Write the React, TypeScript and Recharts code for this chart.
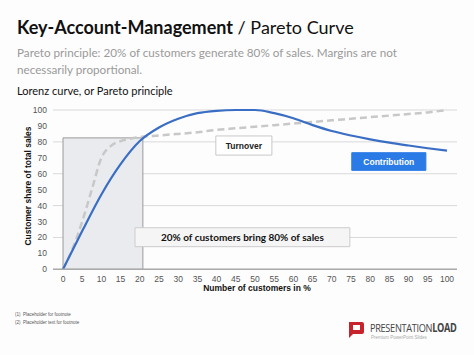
import React from 'react';
import { LineChart, Line, XAxis, YAxis, CartesianGrid, ReferenceArea } from 'recharts';

const xTicks = [0, 5, 10, 15, 20, 25, 30, 35, 40, 45, 50, 55, 60, 65, 70, 75, 80, 85, 90, 95, 100];
const yTicks = [0, 10, 20, 30, 40, 50, 60, 70, 80, 90, 100];

const contributionX = [0, 5, 10, 15, 20, 25, 30, 35, 40, 45, 50, 55, 60, 65, 70, 75, 80, 85, 90, 95, 100];
const contributionY = [0, 24, 47, 66, 80.5, 89, 94.5, 98, 99.5, 100, 100, 98, 94.8, 90.5, 86.8, 84, 81.6, 79.5, 77.7, 76, 74.5];

const turnoverX = [0, 2.5, 5, 7.5, 10, 12.5, 15, 17.5, 20, 25, 30, 35, 40, 45, 50, 55, 60, 65, 70, 75, 80, 85, 90, 95, 100];
const turnoverY = [0, 13, 30, 50, 70, 77.5, 80.5, 82, 83, 84, 85, 86, 87.5, 88.5, 89.5, 90.5, 91.5, 92.5, 93.5, 94.5, 95.5, 96.5, 97.5, 98.5, 100];

const contributionData = contributionX.map((x, i) => ({ x, v: contributionY[i] }));
const turnoverData = turnoverX.map((x, i) => ({ x, v: turnoverY[i] }));

const FONT = 'Liberation Sans, Arial, sans-serif';
const TFONT = 'Lato, "Open Sans", sans-serif';

export default function App() {
  return (
    <div style={{ position: 'absolute', left: 0, top: 0, width: 474, height: 355, background: '#fdfdfd', overflow: 'hidden' }}>
      <div style={{ position: 'absolute', left: 17, top: 17.2, fontFamily: TFONT, fontSize: 18, lineHeight: 1.2, color: '#111', whiteSpace: 'nowrap' }}>
        <span style={{ fontWeight: 700 }}>Key-Account-Management</span> / Pareto Curve
      </div>
      <div style={{ position: 'absolute', left: 17, top: 44, width: 450, fontFamily: TFONT, fontSize: 11.7, lineHeight: '16.5px', color: '#9a9a9a' }}>
        Pareto principle: 20% of customers generate 80% of sales. Margins are not<br />necessarily proportional.
      </div>
      <div style={{ position: 'absolute', left: 17, top: 83.5, fontFamily: TFONT, fontSize: 11, lineHeight: 1.2, color: '#111', whiteSpace: 'nowrap' }}>
        Lorenz curve, or Pareto principle
      </div>

      <div style={{ position: 'absolute', left: 0, top: 0 }}>
        <LineChart width={474} height={355} margin={{ top: 110, right: 17, left: 33, bottom: 0 }}>
          <CartesianGrid vertical={false} stroke="#d9d9d9" />
          <XAxis
            type="number"
            dataKey="x"
            domain={[0, 100]}
            ticks={xTicks}
            padding={{ left: 10, right: 10 }}
            height={85.7}
            tickSize={0}
            tickMargin={7}
            axisLine={{ stroke: '#aaaaaa', strokeWidth: 1.5 }}
            tickLine={false}
            tick={{ fontSize: 8.5, fill: '#555', fontFamily: FONT }}
            allowDuplicatedCategory={false}
          />
          <YAxis
            type="number"
            domain={[0, 100]}
            ticks={yTicks}
            width={20}
            tickSize={0}
            tickMargin={6}
            axisLine={false}
            tickLine={false}
            tick={{ fontSize: 8.5, fill: '#555', fontFamily: FONT }}
          />
          <ReferenceArea x1={0} x2={20.8} y1={0} y2={82.5} fill="#e9ebee" fillOpacity={1} stroke="#9a9a9a" strokeWidth={1} />
          <Line data={turnoverData} dataKey="v" type="monotone" stroke="#c8c8c8" strokeWidth={2.5} strokeDasharray="7 4" dot={false} isAnimationActive={false} />
          <Line data={contributionData} dataKey="v" type="monotone" stroke="#3a6ec4" strokeWidth={2.2} dot={false} isAnimationActive={false} />
          <ReferenceArea
            x1={39.8} x2={54.4} y1={71.7} y2={83.7}
            fill="#ffffff" fillOpacity={1} stroke="#c8c8c8"
            label={{ value: 'Turnover', position: 'center', fill: '#222', fontSize: 8.5, fontWeight: 'bold', fontFamily: FONT }}
          />
          <ReferenceArea
            x1={75.2} x2={94.5} y1={62.1} y2={73.2}
            fill="#2b7be6" fillOpacity={1} stroke="#2b7be6"
            label={{ value: 'Contribution', position: 'center', fill: '#ffffff', fontSize: 8.5, fontWeight: 'bold', fontFamily: FONT }}
          />
          <ReferenceArea
            x1={18.75} x2={74.7} y1={14.2} y2={26.1}
            fill="#f5f5f5" fillOpacity={1} stroke="#cccccc"
            label={{ value: '20% of customers bring 80% of sales', position: 'center', fill: '#111', fontSize: 10, fontWeight: 'bold', fontFamily: TFONT }}
          />
        </LineChart>
      </div>

      <div style={{ position: 'absolute', left: 157, top: 283, width: 200, textAlign: 'center', fontFamily: FONT, fontSize: 8.5, fontWeight: 700, color: '#111' }}>
        Number of customers in %
      </div>
      <div style={{ position: 'absolute', left: 28, top: 187, width: 0, height: 0 }}>
        <div style={{ position: 'absolute', left: -80, top: -6, width: 160, textAlign: 'center', transform: 'rotate(-90deg)', fontFamily: FONT, fontSize: 8.5, fontWeight: 700, color: '#111', whiteSpace: 'nowrap' }}>
          Customer share of total sales
        </div>
      </div>

      <div style={{ position: 'absolute', left: 15, top: 312, fontFamily: FONT, fontSize: 4.5, color: '#555', whiteSpace: 'nowrap' }}>(1)&nbsp;&nbsp;Placeholder for footnote</div>
      <div style={{ position: 'absolute', left: 15, top: 320, fontFamily: FONT, fontSize: 4.5, color: '#555', whiteSpace: 'nowrap' }}>(2)&nbsp;&nbsp;Placeholder text for footnote</div>

      <svg style={{ position: 'absolute', left: 346, top: 320 }} width={20} height={20}>
        <path d="M3 2 H16 Q18 2 18 4 V12 Q18 14 16 14 H7 L3 18 Z" fill="#c8232c" />
        <rect x={7} y={5} width={7} height={5} fill="#ffffff" />
      </svg>
      <div style={{ position: 'absolute', left: 370, top: 320, fontFamily: '"Open Sans", sans-serif', fontSize: 11.5, color: '#444', whiteSpace: 'nowrap', letterSpacing: -0.4, transform: 'scaleX(0.8)', transformOrigin: 'left' }}>
        PRESENTATION<span style={{ fontWeight: 700 }}>LOAD</span>
      </div>
      <div style={{ position: 'absolute', left: 371, top: 335, fontFamily: FONT, fontSize: 4.5, color: '#aaa', whiteSpace: 'nowrap' }}>Premium PowerPoint Slides</div>
    </div>
  );
}
